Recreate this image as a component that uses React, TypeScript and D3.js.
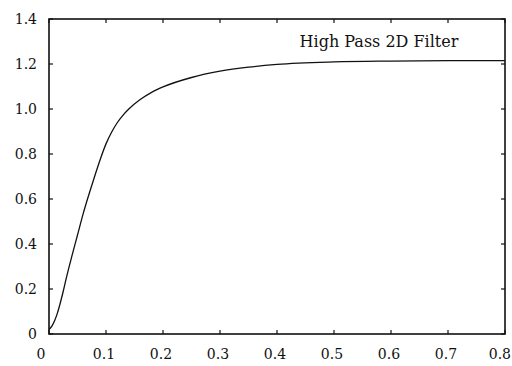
import React from 'react'
import * as d3 from 'd3'

// Filter response
const freq = [0, 0.005, 0.01, 0.015, 0.02, 0.025, 0.03, 0.04, 0.05, 0.06, 0.07, 0.08, 0.09, 0.1, 0.11, 0.12, 0.13, 0.14, 0.16, 0.18, 0.2, 0.25, 0.3, 0.35, 0.4, 0.5, 0.6, 0.7, 0.8]
const response = [0.02, 0.035, 0.06, 0.095, 0.14, 0.19, 0.245, 0.345, 0.44, 0.535, 0.62, 0.7, 0.777, 0.845, 0.898, 0.94, 0.973, 1.0, 1.042, 1.074, 1.098, 1.14, 1.168, 1.186, 1.198, 1.209, 1.213, 1.215, 1.215]

const xTicks = [0, 0.1, 0.2, 0.3, 0.4, 0.5, 0.6, 0.7, 0.8]
const yTicks = [0, 0.2, 0.4, 0.6, 0.8, 1.0, 1.2, 1.4]
const yTickLabels = ['0', '0.2', '0.4', '0.6', '0.8', '1.0', '1.2', '1.4']
const title = 'High Pass 2D Filter'

const W = 512
const H = 366
const margin = { left: 49, right: 7, top: 19, bottom: 32 }

export default function App() {
  const x = d3.scaleLinear().domain([0, 0.8]).range([margin.left, W - margin.right])
  const y = d3.scaleLinear().domain([0, 1.4]).range([H - margin.bottom, margin.top])

  const line = d3
    .line<number>()
    .x((_d, i) => x(freq[i]))
    .y(d => y(d))
    .curve(d3.curveMonotoneX)

  const font = "'DejaVu Serif', 'Liberation Serif', serif"
  const tickLen = 4
  const x0 = x(0)
  const x1 = x(0.8)
  const y0 = y(0)
  const y1 = y(1.4)

  return (
    <svg
      width={W}
      height={H}
      style={{ position: 'absolute', left: 0, top: 0, background: '#fff', fontFamily: font }}
    >
      {/* frame */}
      <rect x={x0} y={y1} width={x1 - x0} height={y0 - y1} fill="none" stroke="#111" strokeWidth={1.6} />

      {/* ticks on all four sides, pointing inward */}
      {xTicks.map(t => (
        <g key={`xt${t}`} stroke="#111" strokeWidth={1.2}>
          <line x1={x(t)} x2={x(t)} y1={y0} y2={y0 - tickLen} />
          <line x1={x(t)} x2={x(t)} y1={y1} y2={y1 + tickLen} />
        </g>
      ))}
      {yTicks.map(t => (
        <g key={`yt${t}`} stroke="#111" strokeWidth={1.2}>
          <line x1={x0} x2={x0 + tickLen} y1={y(t)} y2={y(t)} />
          <line x1={x1} x2={x1 - tickLen} y1={y(t)} y2={y(t)} />
        </g>
      ))}

      {/* tick labels (last one pulled in so it stays on the page) */}
      {xTicks.map((t, i) => {
        const last = i === xTicks.length - 1
        return (
          <text
            key={`xl${t}`}
            x={t === 0 ? x(t) - 8 : last ? W - 1 : x(t) - 2}
            y={359}
            textAnchor={last ? 'end' : 'middle'}
            fontSize={14}
            fill="#111"
            style={{ fontFamily: font }}
          >
            {t === 0 ? '0' : t.toFixed(1)}
          </text>
        )
      })}
      {yTicks.map((t, i) => (
        <text
          key={`yl${t}`}
          x={37}
          y={y(t)}
          dy="0.35em"
          textAnchor="end"
          fontSize={14}
          fill="#111"
          style={{ fontFamily: font }}
        >
          {yTickLabels[i]}
        </text>
      ))}

      {/* curve */}
      <path d={line(response) || ''} fill="none" stroke="#111" strokeWidth={1.3} />

      {/* legend text */}
      <text x={379} y={47} textAnchor="middle" fontSize={16} fill="#111" style={{ fontFamily: font }}>
        {title}
      </text>
    </svg>
  )
}
